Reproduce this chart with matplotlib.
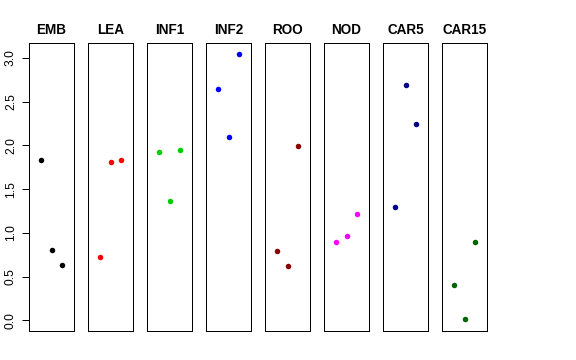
import matplotlib
matplotlib.use('Agg')
import matplotlib.pyplot as plt

plt.rcParams['font.family'] = ['Liberation Sans', 'DejaVu Sans']

tissues = ['EMB', 'LEA', 'INF1', 'INF2', 'ROO', 'NOD', 'CAR5', 'CAR15']
colors = ['black', 'red', '#00CD00', 'blue', '#8B0000', 'magenta', '#00008B', '#006400']
reps = [1, 2, 3]
EMB = [1.83, 0.81, 0.63]
LEA = [0.73, 1.81, 1.83]
INF1 = [1.92, 1.37, 1.95]
INF2 = [2.65, 2.10, 3.05]
ROO = [0.79, 0.62, 1.99]
NOD = [0.90, 0.97, 1.22]
CAR5 = [1.30, 2.69, 2.25]
CAR15 = [0.40, 0.01, 0.90]
values = [EMB, LEA, INF1, INF2, ROO, NOD, CAR5, CAR15]

W, H = 576, 360
fig = plt.figure(figsize=(W / 72, H / 72), dpi=72)

ymin, ymax = 0.0, 3.05
pad = (ymax - ymin) * 0.04

for i, name in enumerate(tissues):
    left = 29 + i * 59
    ax = fig.add_axes([left / W, (H - 331) / H, 45 / W, 288 / H])
    ax.plot(reps, values[i], 'o', color=colors[i], markersize=5.5, markeredgewidth=0)
    ax.set_xlim(-0.16, 4.16)
    ax.set_ylim(ymin - pad, ymax + pad)
    ax.set_title(name, fontsize=13.5, fontweight='bold', pad=9)
    ax.set_xticks([])
    for s in ax.spines.values():
        s.set_linewidth(1)
        s.set_color('black')
    if i == 0:
        ax.set_yticks([0.0, 0.5, 1.0, 1.5, 2.0, 2.5, 3.0])
        ax.set_yticklabels(['0.0', '0.5', '1.0', '1.5', '2.0', '2.5', '3.0'],
                           rotation=90, va='center', fontsize=12)
        ax.tick_params(axis='y', length=7, width=1, pad=5)
    else:
        ax.set_yticks([])

fig.savefig('out.png', dpi=72)
